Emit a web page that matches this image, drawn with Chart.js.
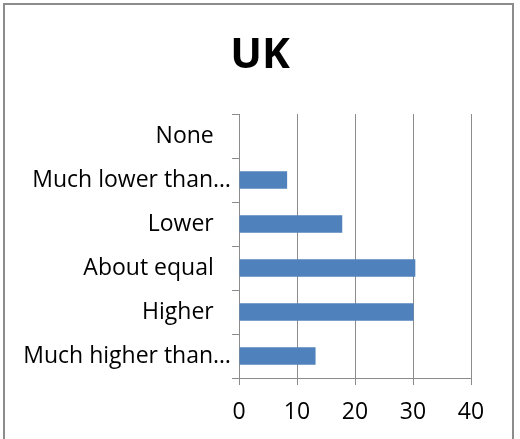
<!DOCTYPE html>
<html>
<head>
<meta charset="utf-8">
<script src="https://cdn.jsdelivr.net/npm/chart.js@4"></script>
<style>
html,body{margin:0;padding:0;background:#fff;overflow:hidden;}
#wrap{position:relative;width:520px;height:439px;}
#frame{position:absolute;left:3px;top:3px;width:511px;height:460px;border:2px solid #8c8c8c;box-sizing:border-box;}
canvas{position:absolute;left:0;top:0;}
</style>
</head>
<body>
<div id="wrap">
<div id="frame"></div>
<canvas id="c" width="520" height="439"></canvas>
</div>
<script>
const title = "UK";
const categories = ["None\u2002\u2005", "Much lower than\u2026", "Lower\u2002\u2005", "About equal\u2002\u2005", "Higher\u2002\u2005", "Much higher than\u2026"];
const values = [0, 8.3, 17.8, 30.4, 30.1, 13.2];
const xTicks = [0, 10, 20, 30, 40];

const FONT = "'Open Sans', 'DejaVu Sans', sans-serif";
const PLOT_LEFT = 239, PLOT_RIGHT = 471, PLOT_TOP = 114, PLOT_BOTTOM = 378;
const SIDE = 520 - PLOT_RIGHT;

// centre the title over the whole canvas rather than the padded area
const titleFull = {
  id: 'titleFull',
  afterLayout(chart) {
    const t = chart.titleBlock;
    if (t) { t.left = 0; t.right = chart.width; t.width = chart.width; }
  }
};

new Chart(document.getElementById('c'), {
  type: 'bar',
  plugins: [titleFull],
  data: {
    labels: categories,
    datasets: [{
      data: values,
      backgroundColor: '#4F81BD',
      borderColor: '#4F81BD',
      borderWidth: 0,
      barPercentage: 0.4,
      categoryPercentage: 1.0
    }]
  },
  options: {
    indexAxis: 'y',
    responsive: false,
    animation: false,
    layout: { padding: { left: 0, right: SIDE, top: 0, bottom: 0 } },
    plugins: {
      legend: { display: false },
      tooltip: { enabled: false },
      title: {
        display: true,
        text: title,
        color: '#000',
        font: { family: FONT, size: 42, weight: 'bold', lineHeight: 1 },
        padding: { top: 35, bottom: PLOT_TOP - 35 - 42 }
      }
    },
    scales: {
      x: {
        min: 0, max: 40,
        afterBuildTicks: (s) => { s.ticks = xTicks.map(v => ({ value: v })); },
        afterFit: (s) => { s.height = 439 - PLOT_BOTTOM; },
        grid: { color: '#8c8c8c', lineWidth: 1, tickLength: 7, drawTicks: true },
        border: { display: true, color: '#8c8c8c' },
        ticks: { color: '#000', font: { family: FONT, size: 23 }, padding: 14 }
      },
      y: {
        afterFit: (s) => { s.width = PLOT_LEFT; },
        grid: { display: true, drawOnChartArea: false, color: '#8c8c8c', tickLength: 7, offset: true },
        border: { display: true, color: '#8c8c8c' },
        ticks: { color: '#000', font: { family: FONT, size: 23 }, padding: 1, autoSkip: false }
      }
    }
  }
});
</script>
</body>
</html>
